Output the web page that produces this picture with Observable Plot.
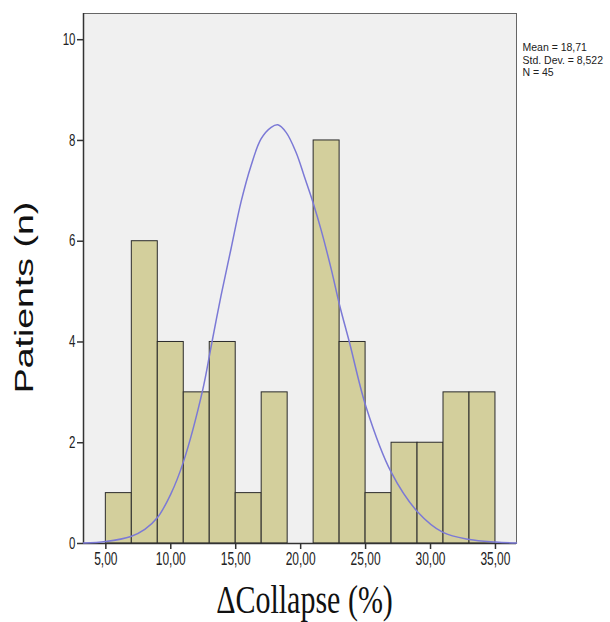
<!DOCTYPE html>
<html><head><meta charset="utf-8">
<script src="https://cdn.jsdelivr.net/npm/d3@7"></script>
<script src="https://cdn.jsdelivr.net/npm/@observablehq/plot@0.6"></script>
<style>html,body{margin:0;padding:0;background:#fff} svg{display:block}</style>
</head><body><div id="chart"></div>
<script>
// Histogram bins (ΔCollapse %) and patient counts
const binLower = [5, 7, 9, 11, 13, 15, 17, 19, 21, 23, 25, 27, 29, 31, 33];
const binUpper = [7, 9, 11, 13, 15, 17, 19, 21, 23, 25, 27, 29, 31, 33, 35];
const counts   = [1, 6, 4, 3, 4, 1, 3, 0, 8, 4, 1, 2, 2, 3, 3];

// Normal curve, points
const curveX = [3.28, 5, 6.93, 8.0, 8.99, 10.0, 10.96, 12.46, 13.1, 13.87, 14.64, 15.41, 16.18, 16.95, 17.73, 18.24, 18.88, 19.65, 20.29, 20.94, 21.58, 22.35, 22.99, 23.76, 25.05, 26.98, 29.03, 30.96, 33, 35, 36.62];
const curveY = [0.01, 0.04, 0.14, 0.28, 0.52, 0.98, 1.61, 3.05, 3.9, 4.92, 5.85, 6.78, 7.5, 8.03, 8.26, 8.31, 8.16, 7.76, 7.28, 6.78, 6.22, 5.45, 4.74, 3.99, 2.70, 1.41, 0.62, 0.22, 0.08, 0.03, 0.01];

const xTicks = [5, 10, 15, 20, 25, 30, 35];
const xTickLabels = ["5,00", "10,00", "15,00", "20,00", "25,00", "30,00", "35,00"];
const yTicks = [0, 2, 4, 6, 8, 10];
const yTickLabels = ["0", "2", "4", "6", "8", "10"];
const statLines = ["Mean = 18,71", "Std. Dev. = 8,522", "N = 45"];
const xTitle = "ΔCollapse (%)";
const yTitle = "Patients (n)";
const xDomain = [3.28, 36.62];
const yDomain = [0, 10.52];

const bars = binLower.map((x1, i) => ({x1, x2: binUpper[i], n: counts[i]})).filter(d => d.n > 0);
const curve = curveX.map((x, i) => ({x, y: curveY[i]}));

const sans = "Liberation Sans, Arial, Helvetica, sans-serif";
const serif = "\"Times New Roman\", \"Liberation Serif\", Times, \"DejaVu Serif\", \"Noto Serif\", FreeSerif, Georgia, serif";

const plot = Plot.plot({
  width: 610, height: 622,
  marginLeft: 83, marginRight: 94, marginTop: 13, marginBottom: 79,
  style: {background: "#fff", overflow: "visible"},
  x: {domain: xDomain},
  y: {domain: yDomain},
  marks: [
    Plot.frame({fill: "#f0f0f0", stroke: "#666", strokeWidth: 1}),
    Plot.rect(bars, {x1: "x1", x2: "x2", y1: 0, y2: "n", fill: "#d3cf9c", stroke: "#2b2b2b", strokeWidth: 1}),
    Plot.ruleX([xDomain[0]], {stroke: "#333", strokeWidth: 1.5}),
    Plot.ruleY([0], {stroke: "#333", strokeWidth: 1.5}),
    Plot.line(curve, {x: "x", y: "y", stroke: "#7b79d6", strokeWidth: 1.5, curve: "catmull-rom"}),
    Plot.axisX({ticks: xTicks, tickFormat: d => xTickLabels[xTicks.indexOf(d)], tickSize: 6, tickPadding: 3, fontSize: 12, fontFamily: sans, label: null, stroke: "#333", strokeWidth: 1.5, fill: "#222"}),
    Plot.axisY({ticks: yTicks, tickFormat: d => yTickLabels[yTicks.indexOf(d)], tickSize: 6, tickPadding: 2, fontSize: 11.5, fontFamily: sans, label: null, stroke: "#333", strokeWidth: 1.5, fill: "#222"}),
    Plot.text([yTitle], {text: d => d, frameAnchor: "left", rotate: -90, dx: -59, dy: 19, fontSize: 25, fontFamily: sans, lineAnchor: "middle", textAnchor: "middle", fill: "#111"}),
    Plot.text([xTitle], {text: d => d, frameAnchor: "bottom", dx: 4.5, dy: 57.5, fontSize: 30, fontFamily: serif, lineAnchor: "middle", textAnchor: "middle", fill: "#111"}),
    ...statLines.map((s, i) => Plot.text([s], {text: d => d, frameAnchor: "top-right", textAnchor: "start", lineAnchor: "top", dx: 6, dy: 30 + 12.5 * i, fontSize: 10.5, fontFamily: sans, fill: "#222"}))
  ]
});

function stretchText(t, sx, sy) {
  let tr = t.getAttribute("transform");
  if (!tr) {
    const x = t.getAttribute("x") || 0, y = t.getAttribute("y") || 0;
    if (!String(y).includes("em")) { tr = `translate(${x},${y})`; t.removeAttribute("y"); }
    else tr = `translate(${x},0)`;
    t.removeAttribute("x");
  }
  t.setAttribute("transform", tr + ` scale(${sx},${sy})`);
}
plot.querySelectorAll('g[aria-label="x-axis tick label"] text').forEach(t => stretchText(t, 1, 1.5));
plot.querySelectorAll('g[aria-label="y-axis tick label"] text').forEach(t => stretchText(t, 1, 1.43));
plot.querySelectorAll("text").forEach(t => {
  const s = t.textContent;
  if (s === yTitle) stretchText(t, 1.5, 1);
  else if (s === xTitle) { t.style.setProperty("font-family", serif, "important"); stretchText(t, 1, 1.3); }
  else if (statLines.includes(s)) stretchText(t, 1, 1.05);
});

document.getElementById("chart").appendChild(plot);
</script>
</body></html>
